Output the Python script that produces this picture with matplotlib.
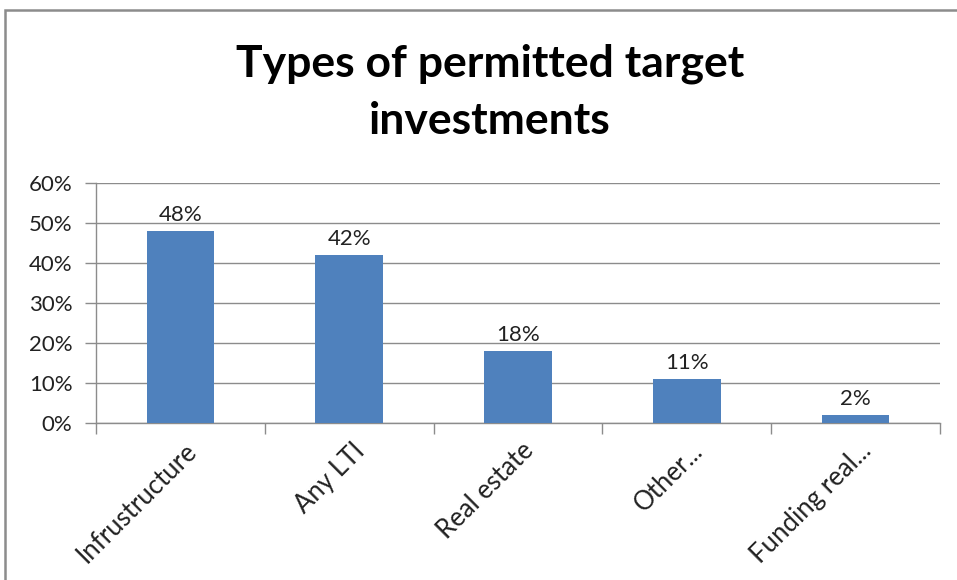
import matplotlib
matplotlib.use("Agg")
import matplotlib.pyplot as plt
from matplotlib.patches import Rectangle
from matplotlib.transforms import offset_copy
import numpy as np

categories = ["Infrustructure", "Any LTI", "Real estate", "Other...", "Funding real..."]
values = [48, 42, 18, 11, 2]
yticks = [0, 10, 20, 30, 40, 50, 60]
ytick_labels = ["0%", "10%", "20%", "30%", "40%", "50%", "60%"]
title = "Types of permitted target\ninvestments"

plt.rcParams['font.family'] = ['Lato', 'DejaVu Sans']

fig = plt.figure(figsize=(9.57, 5.80), dpi=100)
fig.patch.set_facecolor("white")

# chart border (left and top visible)
fig.patches.append(Rectangle((5/957, -0.1), 1.2, 1 - 10/580 + 0.1, transform=fig.transFigure,
                             fill=False, edgecolor="#8c8c8c", linewidth=1.8, zorder=0))

ax = fig.add_axes([96/957, 1 - 423/580, (940 - 96)/957, (423 - 183)/580])
x = np.arange(len(categories))
bars = ax.bar(x, values, width=0.4, color="#4F81BD", zorder=3)

ax.set_xlim(-0.5, len(categories) - 0.5)
ax.set_ylim(0, 60)
ax.set_yticks(yticks)
ax.set_yticklabels(ytick_labels, fontsize=16, color="#222222")
ax.yaxis.grid(True, color="#8c8c8c", linewidth=1.0, zorder=0)
ax.tick_params(axis='y', length=8, width=1.0, color="#8c8c8c", pad=9)

ax.set_xticks(np.arange(-0.5, len(categories), 1.0))
ax.set_xticklabels([])
ax.tick_params(axis='x', length=8, width=1.0, color="#8c8c8c")

for s in ["top", "right"]:
    ax.spines[s].set_visible(False)
for s in ["left", "bottom"]:
    ax.spines[s].set_color("#8c8c8c")
    ax.spines[s].set_linewidth(1.0)

for xi, v in zip(x, values):
    ax.annotate(f"{v}%", (xi, v), xytext=(0, 4), textcoords="offset points",
                ha="center", va="bottom", fontsize=16, color="#222222")

trans = offset_copy(ax.get_xaxis_transform(), fig=fig, x=12, y=-24, units="dots")
for xi, c in zip(x, categories):
    ax.text(xi, 0, c, transform=trans, rotation=45, ha="right", va="center",
            rotation_mode="anchor", fontsize=18.5, color="#222222")

fig.text(490/957, 1 - 92/580, title, ha="center", va="center", fontsize=32,
         fontweight="bold", color="black", linespacing=1.5)

fig.savefig("out.png", dpi=100)
